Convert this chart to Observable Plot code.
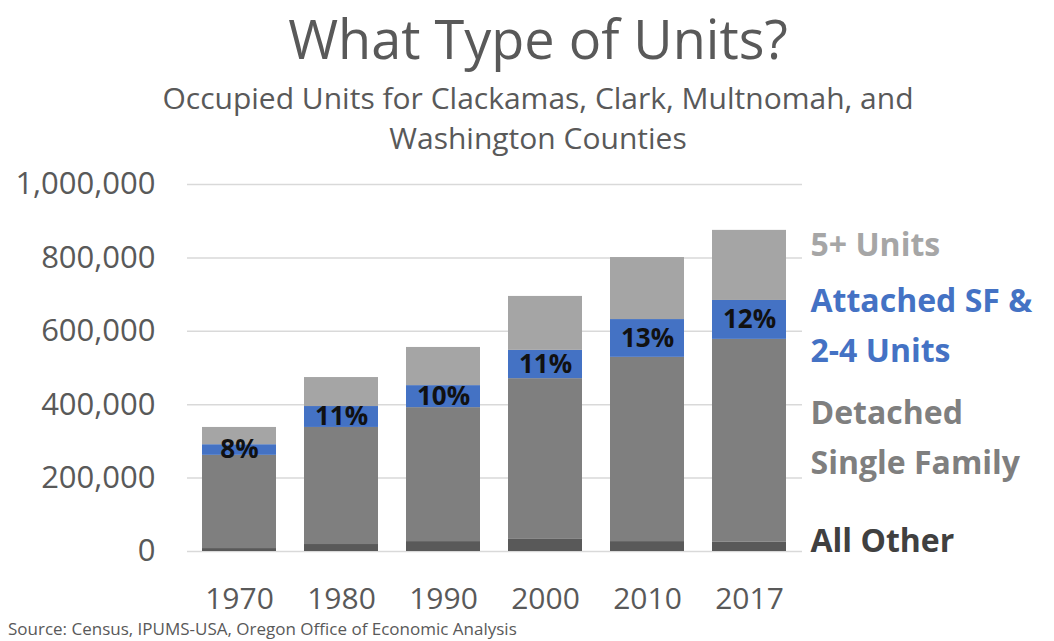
<!DOCTYPE html>
<html>
<head>
<meta charset="utf-8">
<script src="https://cdn.jsdelivr.net/npm/d3@7"></script>
<script src="https://cdn.jsdelivr.net/npm/@observablehq/plot@0.6"></script>
<style>
  body { margin: 0; background: #fff; width: 1054px; font-family: "Open Sans", sans-serif; }
  #title { height: 78px; line-height: 76px; text-align: center; font-size: 54px; color: #595959; padding-left: 22px; }
  #subtitle { height: 82px; line-height: 40px; text-align: center; font-size: 30px; color: #595959; padding-left: 22px; white-space: nowrap; }
  #chart svg { display: block; }
  #source { font-size: 17px; color: #595959; padding-left: 8px; line-height: 24px; margin-top: 2px; white-space: nowrap; }
</style>
</head>
<body>
<div id="title">What Type of Units?</div>
<div id="subtitle">Occupied Units for Clackamas, Clark, Multnomah, and<br>Washington Counties</div>
<div id="chart"></div>
<div id="source">Source: Census, IPUMS-USA, Oregon Office of Economic Analysis</div>
<script>
const years = ["1970", "1980", "1990", "2000", "2010", "2017"];
const allOther = [8000, 19000, 27000, 33000, 27000, 25000];
const detachedSF = [254000, 319000, 365000, 438000, 502000, 553000];
const attachedSF = [29000, 57000, 60000, 77000, 103000, 106000];
const fivePlus = [47000, 79000, 104000, 147000, 169000, 191000];
const shareLabels = ["8%", "11%", "10%", "11%", "13%", "12%"];
const seriesNames = ["All Other", "Detached Single Family", "Attached SF & 2-4 Units", "5+ Units"];
const legendLabels = ["All Other", "Detached\nSingle Family", "Attached SF &\n2-4 Units", "5+ Units"];
const seriesColors = ["#595959", "#7f7f7f", "#4472c4", "#a5a5a5"];
const legendColors = ["#404040", "#7f7f7f", "#4472c4", "#a6a6a6"];
const yTicks = [0, 200000, 400000, 600000, 800000, 1000000];

const seriesValues = [allOther, detachedSF, attachedSF, fivePlus];
const rows = [];
years.forEach((yr, i) => {
  seriesNames.forEach((s, k) => rows.push({year: yr, series: s, value: seriesValues[k][i]}));
});

const pctRows = years.map((yr, i) => ({
  year: yr,
  mid: allOther[i] + detachedSF[i] + attachedSF[i] / 2,
  label: shareLabels[i]
}));

const last = years.length - 1;
const legendDy = [-11, -8, 1, -25];
const legendRows = seriesNames.map((s, k) => {
  let base = 0;
  for (let j = 0; j < k; j++) base += seriesValues[j][last];
  return {year: years[last], mid: base + seriesValues[k][last] / 2, label: legendLabels[k], color: legendColors[k], dy: legendDy[k]};
});

const plot = Plot.plot({
  width: 1054,
  height: 455,
  marginTop: 24,
  marginBottom: 64,
  marginLeft: 187,
  marginRight: 252,
  style: {fontFamily: "Open Sans, sans-serif", background: "#fff", overflow: "visible"},
  x: {domain: years, paddingInner: 0.27, paddingOuter: 0.136, label: null},
  y: {domain: [0, 1000000], label: null},
  color: {domain: seriesNames, range: seriesColors},
  marks: [
    Plot.gridY(yTicks, {stroke: "#d9d9d9", strokeOpacity: 1, strokeWidth: 1.5}),
    Plot.axisY({ticks: yTicks, tickFormat: d3.format(","), tickSize: 0, tickPadding: 32, fontSize: 31, fill: "#595959", label: null}),
    Plot.axisX({tickSize: 0, tickPadding: 36, fontSize: 30, fill: "#595959", label: null}),
    Plot.barY(rows, {x: "year", y: "value", fill: "series", order: seriesNames}),
    Plot.text(pctRows, {x: "year", y: "mid", text: "label", fontSize: 26, fontWeight: "bold", fill: "#111"}),
    ...legendRows.map(r => Plot.text([r], {x: "year", y: "mid", text: "label", dx: 61, dy: r.dy, textAnchor: "start", fontSize: 32, fontWeight: "bold", fill: r.color, lineHeight: 1.56}))
  ]
});
document.getElementById("chart").appendChild(plot);
</script>
</body>
</html>
